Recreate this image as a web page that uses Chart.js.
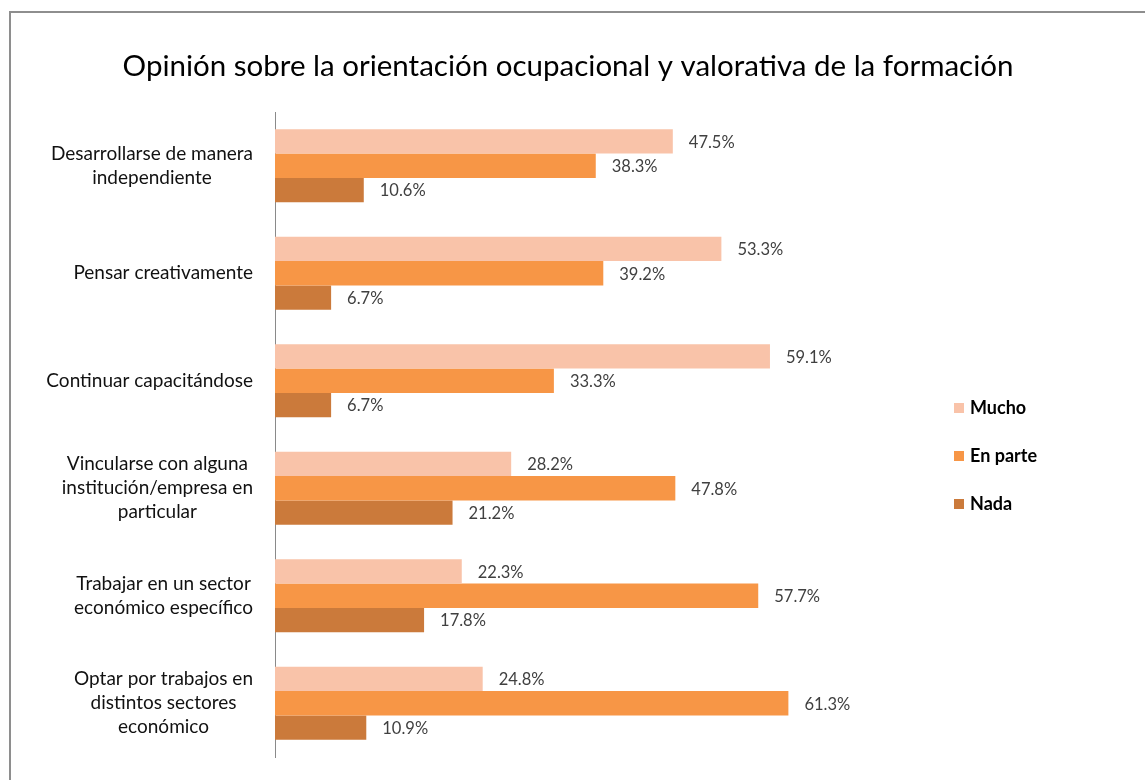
<!DOCTYPE html>
<html><head><meta charset="utf-8">
<script src="https://cdn.jsdelivr.net/npm/chart.js@4/dist/chart.umd.min.js"></script>
<style>
html,body{margin:0;padding:0;background:#fff;overflow:hidden}
#wrap{position:absolute;left:0;top:0;width:1145px;height:780px}
#frame{position:absolute;left:9px;top:11px;width:1200px;height:900px;border-left:2px solid #8e8e8e;border-top:2px solid #8e8e8e;pointer-events:none}
canvas{position:absolute;left:0;top:0}
</style></head>
<body>
<div id="wrap"><div id="frame"></div><canvas id="c" width="1145" height="780"></canvas></div>
<script>
const titleText = 'Opinión sobre la orientación ocupacional y valorativa de la formación';
const categories = [
  ['Desarrollarse de manera','independiente'],
  ['Pensar creativamente'],
  ['Continuar capacitándose'],
  ['Vincularse con alguna','institución/empresa en','particular'],
  ['Trabajar en un sector','económico específico'],
  ['Optar por trabajos en','distintos sectores','económico']
];
const seriesNames = ['Mucho','En parte','Nada'];
const mucho   = [47.5, 53.3, 59.1, 28.2, 22.3, 24.8];
const enParte = [38.3, 39.2, 33.3, 47.8, 57.7, 61.3];
const nada    = [10.6, 6.7, 6.7, 21.2, 17.8, 10.9];
const colors = ['#F9C3A9','#F79646','#CB7A3B'];

const FONT = 'Lato, "Liberation Sans", sans-serif';

const customDraw = {
  id:'customDraw',
  afterDraw(chart){
    const ctx = chart.ctx;
    const ys = chart.scales.y;
    ctx.save();
    // title
    ctx.fillStyle = '#000';
    ctx.font = '29.5px ' + FONT;
    ctx.textAlign = 'center';
    ctx.textBaseline = 'middle';
    ctx.fillText(titleText, 568, 66);
    // category labels
    ctx.font = '19px ' + FONT;
    ctx.fillStyle = '#111';
    const lineH = 24;
    categories.forEach((lines, i) => {
      const yc = ys.getPixelForValue(i);
      let widest = 0;
      lines.forEach(l => { widest = Math.max(widest, ctx.measureText(l).width); });
      const cx = 253 - widest / 2;
      const y0 = yc - (lines.length - 1) * lineH / 2;
      ctx.textAlign = 'center';
      lines.forEach((l, k) => ctx.fillText(l, cx, y0 + k * lineH));
    });
    // data labels
    ctx.font = '16.5px ' + FONT;
    ctx.fillStyle = '#404040';
    ctx.textAlign = 'left';
    chart.data.datasets.forEach((ds, di) => {
      const meta = chart.getDatasetMeta(di);
      meta.data.forEach((bar, j) => {
        ctx.fillText(ds.data[j].toFixed(1) + '%', bar.x + 16, bar.y + 1);
      });
    });
    // legend
    ctx.font = 'bold 18px ' + FONT;
    seriesNames.forEach((n, i) => {
      const y = 408 + i * 48;
      ctx.fillStyle = colors[i];
      ctx.fillRect(954, y - 5, 10, 10);
      ctx.fillStyle = '#000';
      ctx.textAlign = 'left';
      ctx.fillText(n, 970, y);
    });
    ctx.restore();
  }
};

new Chart(document.getElementById('c'), {
  type: 'bar',
  data: {
    labels: categories,
    datasets: [
      {label: seriesNames[0], data: mucho,   backgroundColor: colors[0]},
      {label: seriesNames[1], data: enParte, backgroundColor: colors[1]},
      {label: seriesNames[2], data: nada,    backgroundColor: colors[2]}
    ]
  },
  options: {
    indexAxis: 'y',
    responsive: false,
    animation: false,
    layout: {padding: {top: 112, bottom: 23, left: 20, right: 200}},
    datasets: {bar: {categoryPercentage: 0.68, barPercentage: 1.0}},
    plugins: {legend: {display: false}, title: {display: false}, tooltip: {enabled: false}},
    scales: {
      x: {display: false, min: 0, max: 80},
      y: {
        grid: {display: false, drawTicks: false},
        border: {display: true, color: '#8a8a8a', width: 1},
        ticks: {display: false},
        afterFit(scale){ scale.width = 255; }
      }
    }
  },
  plugins: [customDraw]
});
</script>
</body></html>
